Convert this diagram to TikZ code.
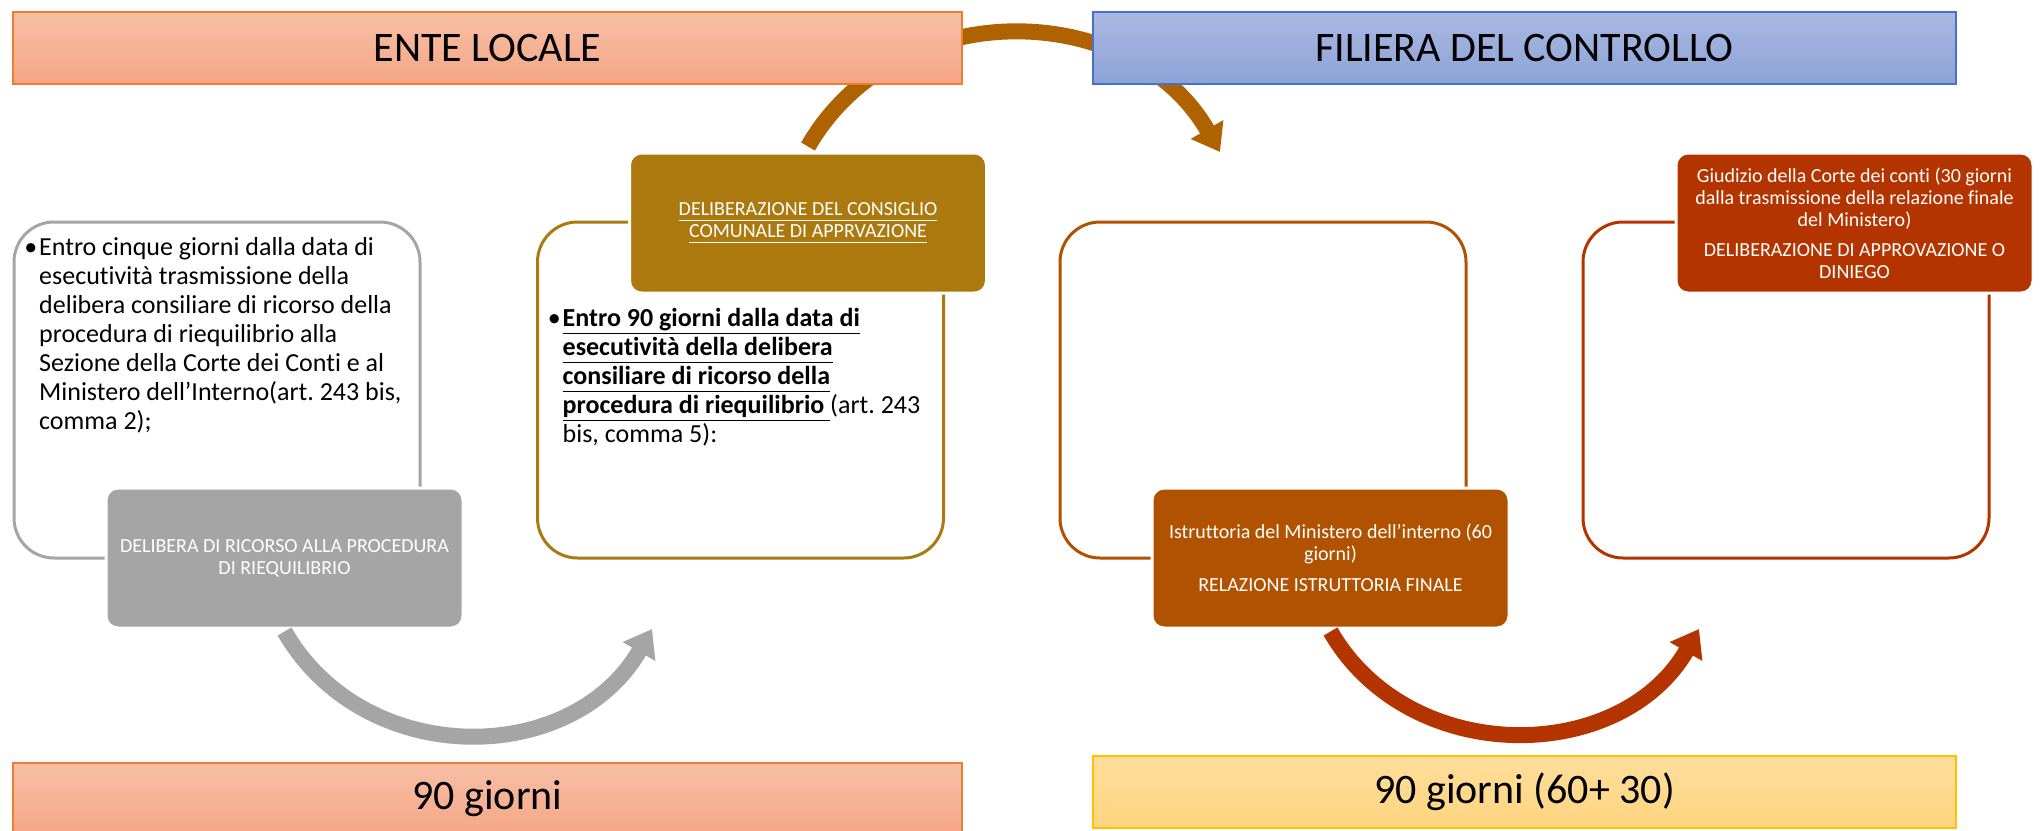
\documentclass[tikz,border=0pt]{standalone}
\usepackage{fontspec}
\setmainfont{Carlito}[Ligatures=NoCommon]
\usepackage{tikz}
\usetikzlibrary{arrows.meta,positioning}
\frenchspacing

\definecolor{entetop}{RGB}{248,191,166}
\definecolor{entebot}{RGB}{244,166,134}
\definecolor{enteline}{RGB}{237,125,49}
\definecolor{filtop}{RGB}{170,184,225}
\definecolor{filbot}{RGB}{140,163,216}
\definecolor{filline}{RGB}{68,114,196}
\definecolor{giotop}{RGB}{255,222,156}
\definecolor{giobot}{RGB}{254,212,127}
\definecolor{gioline}{RGB}{255,192,0}
\definecolor{grigio}{RGB}{165,165,165}
\definecolor{oro}{RGB}{172,121,14}
\definecolor{ocra}{RGB}{176,82,0}
\definecolor{ruggine}{RGB}{180,52,0}
\definecolor{marrone}{RGB}{174,98,0}

\newcommand{\undl}[1]{\underline{#1\vphantom{g}}}

\tikzset{
	header/.style={draw, line width=2pt, minimum height=72pt, inner sep=0pt,
		font=\fontsize{42}{50}\selectfont},
	panel/.style={draw, line width=3pt, rounded corners=40pt, fill=white,
		minimum width=406pt, minimum height=336pt, inner sep=0pt},
	stepbox/.style={draw=white, line width=3pt, rounded corners=12pt, text=white,
		minimum width=357pt, minimum height=140pt, inner sep=0pt, align=center,
		font=\fontsize{20}{22}\selectfont},
	bullettext/.style={inner sep=0pt, align=left, font=\fontsize{26}{29}\selectfont},
	curvearrow/.style={line width=16pt, -{Triangle[length=26pt,width=36pt]}}
}

\begin{document}
\begin{tikzpicture}[x=1pt,y=-1pt]
	\useasboundingbox (0,0) rectangle (2040,830);

	\node[panel, draw=grigio]  (boxA) at (217,390)  {};
	\node[panel, draw=oro]     (boxB) at (740.5,390) {};
	\node[panel, draw=ocra]    (boxC) at (1263,390) {};
	\node[panel, draw=ruggine] (boxD) at (1786,390) {};

	\node[bullettext] (txtA) [below right=17pt and 26.5pt of boxA.north west]
		{\llap{•\hspace{2pt}}Entro cinque giorni dalla data di\\
		 esecutività trasmissione della\\
		 delibera consiliare di ricorso della\\
		 procedura di riequilibrio alla\\
		 Sezione della Corte dei Conti e al\\
		 Ministero dell’Interno(art. 243 bis,\\
		 comma 2);};
	\node[bullettext] (txtB) [below right=88pt and 26.5pt of boxB.north west]
		{\llap{•\hspace{2pt}}\textbf{\undl{Entro 90 giorni dalla data di}}\\
		 \textbf{\undl{esecutività della delibera}}\\
		 \textbf{\undl{consiliare di ricorso della}}\\
		 \textbf{\undl{procedura di riequilibrio }}(art. 243\\
		 bis, comma 5):};

	\node[stepbox, fill=grigio]  (stepA) at (284.5,558)  {DELIBERA DI RICORSO ALLA PROCEDURA\\DI RIEQUILIBRIO};
	\node[stepbox, fill=oro]     (stepB) at (808,223)    {\undl{DELIBERAZIONE DEL CONSIGLIO}\\\undl{COMUNALE DI APPRVAZIONE}};
	\node[stepbox, fill=ocra]    (stepC) at (1330.5,558) {Istruttoria del Ministero dell’interno (60\\giorni)\\[9pt]RELAZIONE ISTRUTTORIA FINALE};
	\node[stepbox, fill=ruggine] (stepD) at (1854.5,223) {Giudizio della Corte dei conti (30 giorni\\dalla trasmissione della relazione finale\\del Ministero)\\[8pt]DELIBERAZIONE DI APPROVAZIONE O\\DINIEGO};

	\coordinate (tipTop)  at (1220,152);
	\coordinate (tipGray) at (652,629);
	\coordinate (tipRed)  at (1699,629);

	\draw[curvearrow, marrone] ([yshift=5pt]stepB.north) to[out=60,in=120,looseness=1.1] (tipTop);
	\draw[curvearrow, grigio]  ([yshift=-2pt]stepA.south) to[out=-60,in=-120,looseness=1.11] (tipGray);
	\draw[curvearrow, ruggine] ([yshift=-2pt]stepC.south) to[out=-60,in=-120,looseness=1.09] (tipRed);

	\node[header, top color=entetop, bottom color=entebot, draw=enteline, minimum width=949pt] (ente)     at (487.5,48)   {ENTE LOCALE};
	\node[header, top color=filtop, bottom color=filbot, draw=filline, minimum width=863pt]   (filiera)  at (1524.5,48)  {FILIERA DEL CONTROLLO};
	\node[header, top color=entetop, bottom color=entebot, draw=enteline, minimum width=949pt] (giorniL) at (487.5,799)  {90 giorni};
	\node[header, top color=giotop, bottom color=giobot, draw=gioline, minimum width=863pt]   (giorniR) at (1524.5,792) {90 giorni (60+ 30)};
\end{tikzpicture}
\end{document}
